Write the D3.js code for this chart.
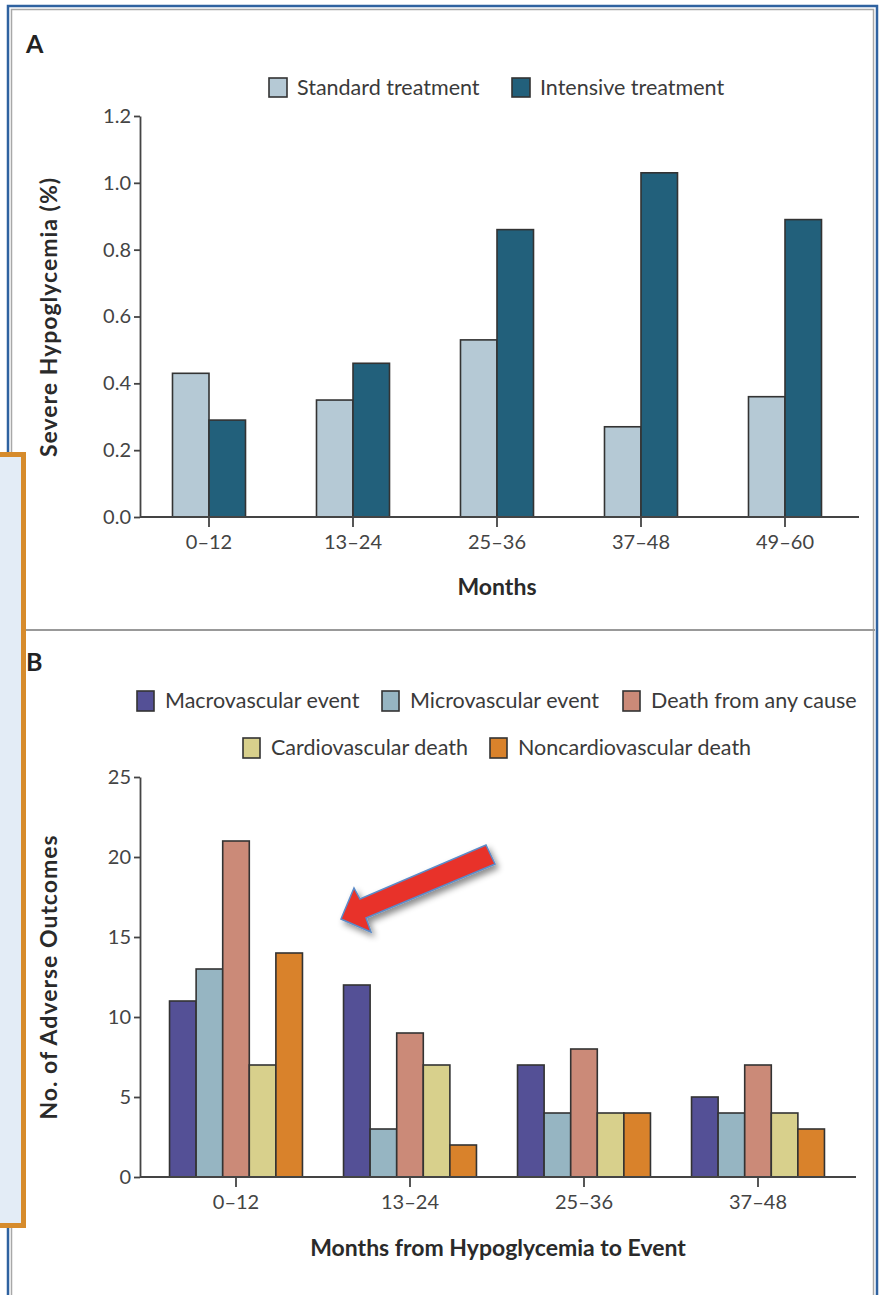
<!DOCTYPE html>
<meta charset="utf-8">
<style>
body { margin: 0; background: #fff; }
svg text { font-family: Lato, "Open Sans", sans-serif; fill: #3a3a3a; }
.axis text { font-size: 20px; fill: #444; }
.axis path, .axis line { stroke: #444; stroke-width: 1.8; }
.ttl { font-weight: bold; font-size: 23px; fill: #2a2a2a; }
.ylab { letter-spacing: 1px; }
.panel { font-weight: bold; font-size: 25px; fill: #222; }
.leg { font-size: 21.5px; }
.bar { stroke: #333; stroke-width: 1.6; }
</style>
<body>
<svg width="881" height="1295"></svg>
<script src="https://d3js.org/d3.v7.min.js"></script>
<script>

// panel A
var monthsA = ["0–12", "13–24", "25–36", "37–48", "49–60"];
var seriesA = ["Standard treatment", "Intensive treatment"];
var standardA = [0.43, 0.35, 0.53, 0.27, 0.36];
var intensiveA = [0.29, 0.46, 0.86, 1.03, 0.89];
var yTicksA = [0, 0.2, 0.4, 0.6, 0.8, 1.0, 1.2];
var colorsA = ["#b5c9d5", "#22607b"];

// panel B
var monthsB = ["0–12", "13–24", "25–36", "37–48"];
var seriesB = ["Macrovascular event", "Microvascular event", "Death from any cause",
               "Cardiovascular death", "Noncardiovascular death"];
var macro = [11, 12, 7, 5];
var micro = [13, 3, 4, 4];
var death = [21, 9, 8, 7];
var cardio = [7, 7, 4, 4];
var noncardio = [14, 2, 4, 3];
var yTicksB = [0, 5, 10, 15, 20, 25];
var colorsB = ["#545096", "#96b5c2", "#cb8a78", "#d8d08c", "#d9822b"];

var svg = d3.select("svg");

var defs = svg.append("defs");
defs.append("filter").attr("id", "shadow")
    .attr("x", "-20%").attr("y", "-20%").attr("width", "150%").attr("height", "160%")
  .append("feDropShadow")
    .attr("dx", 3).attr("dy", 4).attr("stdDeviation", 3)
    .attr("flood-color", "#000").attr("flood-opacity", 0.45);

// outer frame
svg.append("rect")
    .attr("x", 8).attr("y", 6).attr("width", 869).attr("height", 1320)
    .attr("fill", "none").attr("stroke", "#2f62a0").attr("stroke-width", 2.5);
svg.append("rect")
    .attr("x", 11.5).attr("y", 9.5).attr("width", 862).attr("height", 1320)
    .attr("fill", "none").attr("stroke", "#a8a8a8").attr("stroke-width", 1.5);

// panel separator
svg.append("line")
    .attr("x1", 12).attr("x2", 875).attr("y1", 630).attr("y2", 630)
    .attr("stroke", "#999").attr("stroke-width", 2);

// ---------- Panel A ----------
var yA = d3.scaleLinear().domain([0, 1.2]).range([517, 116]);
var xA = d3.scaleBand().domain(monthsA).range([137, 857]).paddingInner(0.493).paddingOuter(0.2465);
var xA1 = d3.scaleBand().domain(seriesA).range([0, xA.bandwidth()]);

var dataA = monthsA.map(function(m, i) {
  return { month: m, values: [standardA[i], intensiveA[i]] };
});

var gA = svg.append("g");
gA.selectAll(".grp")
  .data(dataA)
  .enter().append("g")
    .attr("transform", function(d) { return "translate(" + xA(d.month) + ",0)"; })
  .selectAll("rect")
  .data(function(d) { return d.values.map(function(v, j) { return { s: seriesA[j], v: v, j: j }; }); })
  .enter().append("rect")
    .attr("class", "bar")
    .attr("x", function(d) { return xA1(d.s); })
    .attr("width", xA1.bandwidth())
    .attr("y", function(d) { return yA(d.v); })
    .attr("height", function(d) { return yA(0) - yA(d.v); })
    .attr("fill", function(d) { return colorsA[d.j]; });

gA.append("g").attr("class", "axis")
    .attr("transform", "translate(140,0)")
    .call(d3.axisLeft(yA).tickValues(yTicksA).tickFormat(d3.format(".1f"))
      .tickSize(6).tickSizeOuter(0).tickPadding(3));

gA.append("line")
    .attr("x1", 140).attr("x2", 859).attr("y1", yA(0)).attr("y2", yA(0))
    .attr("stroke", "#444").attr("stroke-width", 1.8);
gA.append("g").attr("class", "axis")
    .attr("transform", "translate(0," + yA(0) + ")")
    .call(d3.axisBottom(xA).tickSize(10).tickSizeOuter(0).tickPadding(8))
    .call(function(g) { g.select(".domain").remove(); });

gA.append("text").attr("class", "panel").attr("x", 26).attr("y", 53).text("A");
gA.append("text").attr("class", "ttl ylab")
    .attr("transform", "translate(57,317) rotate(-90)")
    .attr("text-anchor", "middle").text("Severe Hypoglycemia (%)");
gA.append("text").attr("class", "ttl")
    .attr("x", 497).attr("y", 595).attr("text-anchor", "middle").text("Months");

var legA = [{ x: 269 }, { x: 512 }];
legA.forEach(function(p, j) {
  gA.append("rect").attr("class", "bar")
      .attr("x", p.x).attr("y", 78).attr("width", 18).attr("height", 19)
      .attr("fill", colorsA[j]);
  gA.append("text").attr("class", "leg")
      .attr("x", p.x + 28).attr("y", 95).text(seriesA[j]);
});

// ---------- Panel B ----------
var yB = d3.scaleLinear().domain([0, 25]).range([1177, 777]);
var xB = d3.scaleBand().domain(monthsB).range([149, 845]).paddingInner(0.236).paddingOuter(0.118);
var xB1 = d3.scaleBand().domain(seriesB).range([0, xB.bandwidth()]);

var dataB = monthsB.map(function(m, i) {
  return { month: m, values: [macro[i], micro[i], death[i], cardio[i], noncardio[i]] };
});

var gB = svg.append("g");
gB.selectAll(".grp")
  .data(dataB)
  .enter().append("g")
    .attr("transform", function(d) { return "translate(" + xB(d.month) + ",0)"; })
  .selectAll("rect")
  .data(function(d) { return d.values.map(function(v, j) { return { s: seriesB[j], v: v, j: j }; }); })
  .enter().append("rect")
    .attr("class", "bar")
    .attr("x", function(d) { return xB1(d.s); })
    .attr("width", xB1.bandwidth())
    .attr("y", function(d) { return yB(d.v); })
    .attr("height", function(d) { return yB(0) - yB(d.v); })
    .attr("fill", function(d) { return colorsB[d.j]; });

gB.append("g").attr("class", "axis")
    .attr("transform", "translate(140,0)")
    .call(d3.axisLeft(yB).tickValues(yTicksB).tickSize(6).tickSizeOuter(0).tickPadding(3));

gB.append("line")
    .attr("x1", 140).attr("x2", 856).attr("y1", yB(0)).attr("y2", yB(0))
    .attr("stroke", "#444").attr("stroke-width", 1.8);
gB.append("g").attr("class", "axis")
    .attr("transform", "translate(0," + yB(0) + ")")
    .call(d3.axisBottom(xB).tickSize(10).tickSizeOuter(0).tickPadding(8))
    .call(function(g) { g.select(".domain").remove(); });

gB.append("text").attr("class", "panel").attr("x", 26).attr("y", 671).text("B");
gB.append("text").attr("class", "ttl ylab")
    .attr("transform", "translate(57,977) rotate(-90)")
    .attr("text-anchor", "middle").text("No. of Adverse Outcomes");
gB.append("text").attr("class", "ttl")
    .attr("x", 498).attr("y", 1256).attr("text-anchor", "middle").text("Months from Hypoglycemia to Event");

var legB = [{ x: 137, y: 691 }, { x: 382, y: 691 }, { x: 623, y: 691 },
            { x: 243, y: 738 }, { x: 490, y: 738 }];
legB.forEach(function(p, j) {
  gB.append("rect").attr("class", "bar")
      .attr("x", p.x).attr("y", p.y).attr("width", 17).attr("height", 20)
      .attr("fill", colorsB[j]);
  gB.append("text").attr("class", "leg")
      .attr("x", p.x + 28).attr("y", p.y + 17).text(seriesB[j]);
});

// red annotation arrow
svg.append("path")
    .attr("d", "M341,919 L354,888 L360,899 L486,845 L495,864 L366,918 L371,932 Z")
    .attr("fill", "#e8302a").attr("stroke", "#5b8bc8").attr("stroke-width", 1.5)
    .attr("stroke-linejoin", "miter")
    .attr("filter", "url(#shadow)");

// orange side box
svg.append("rect")
    .attr("x", -10).attr("y", 454.5).attr("width", 33.5).attr("height", 771)
    .attr("fill", "#e3ecf6").attr("stroke", "#d68b2c").attr("stroke-width", 5);

</script>
</body>
